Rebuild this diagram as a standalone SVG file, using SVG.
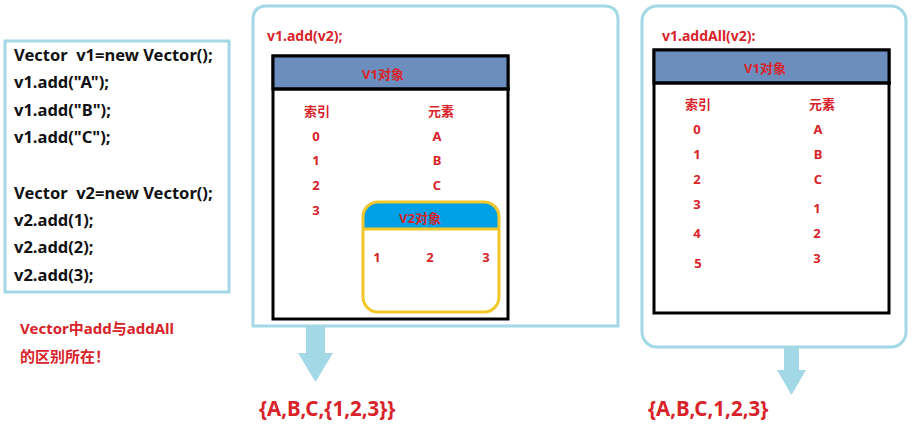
<svg xmlns="http://www.w3.org/2000/svg" width="918" height="426" viewBox="0 0 918 426">
<style>
.frame{fill:#fff;stroke:#A3D8E6;stroke-width:3}
.tbl{fill:#fff;stroke:#000;stroke-width:3}
.hdr{fill:#6C8EBF;stroke:#000;stroke-width:3}
.code{font-family:"Noto Sans","Noto Sans CJK SC",sans-serif;font-weight:bold;font-size:16.5px;fill:#111}
.r{font-family:"Noto Sans","Noto Sans CJK SC",sans-serif;font-weight:bold;fill:#D8232A;text-anchor:middle;dominant-baseline:central}
.s{font-size:13px}
.t{font-size:14px}
.l{text-anchor:start}
.big{font-size:20.5px}
.arrow{fill:#A3D8E6}
</style>
<g id="code-box">
<rect class="frame" x="5" y="41" width="224" height="251"/>
<g class="code">
<text x="14" y="61">Vector&#160; v1=new Vector();</text>
<text x="14" y="88">v1.add("A");</text>
<text x="14" y="116">v1.add("B");</text>
<text x="14" y="143">v1.add("C");</text>
<text x="14" y="199">Vector&#160; v2=new Vector();</text>
<text x="14" y="226">v2.add(1);</text>
<text x="14" y="253">v2.add(2);</text>
<text x="14" y="281">v2.add(3);</text>
</g>
</g>
<g id="caption">
<text class="r l" x="20" y="328" style="font-size:15px">Vector中add与addAll</text>
<text class="r l" x="20" y="356" style="font-size:15px">的区别所在！</text>
</g>
<g id="add-panel">
<path class="frame" d="M253 326 V20 Q253 6 267 6 H604 Q618 6 618 20 V326 Z"/>
<text class="r t l" x="267" y="35">v1.add(v2);</text>
<rect class="tbl" x="273" y="56" width="235" height="263"/>
<rect class="hdr" x="273" y="56" width="235" height="33"/>
<line x1="273" y1="89" x2="510" y2="89" stroke="#000" stroke-width="3"/>
<g class="r s">
<text x="383" y="74">V1对象</text>
<text x="317" y="111">索引</text>
<text x="441" y="111">元素</text>
<text x="316" y="136">0</text><text x="437" y="136">A</text>
<text x="316" y="160">1</text><text x="437" y="160">B</text>
<text x="316" y="185">2</text><text x="437" y="185">C</text>
<text x="316" y="210">3</text>
</g>
<g id="v2-object">
<path d="M363 229 V216 Q363 202 377 202 H485 Q499 202 499 216 V229 Z" fill="#00A0E6"/>
<rect x="363" y="202" width="136" height="110" rx="15" fill="none" stroke="#F2C72A" stroke-width="3"/>
<line x1="363" y1="229" x2="499" y2="229" stroke="#F2C72A" stroke-width="3"/>
<g class="r s">
<text x="420" y="218">V2对象</text>
<text x="377" y="257">1</text>
<text x="430" y="257">2</text>
<text x="486" y="257">3</text>
</g>
</g>
</g>
<g id="addall-panel">
<rect class="frame" x="642" y="6" width="264" height="341" rx="15"/>
<text class="r t l" x="662" y="35">v1.addAll(v2):</text>
<rect class="tbl" x="654" y="50" width="235" height="263"/>
<rect class="hdr" x="654" y="50" width="235" height="33"/>
<line x1="654" y1="83" x2="891" y2="83" stroke="#000" stroke-width="3"/>
<g class="r s">
<text x="765" y="68">V1对象</text>
<text x="698" y="104">索引</text>
<text x="822" y="104">元素</text>
<text x="697" y="129">0</text><text x="818" y="129">A</text>
<text x="697" y="154">1</text><text x="818" y="154">B</text>
<text x="697" y="179">2</text><text x="818" y="179">C</text>
<text x="697" y="204">3</text><text x="817" y="208">1</text>
<text x="697" y="233">4</text><text x="817" y="233">2</text>
<text x="698" y="263">5</text><text x="817" y="258">3</text>
</g>
</g>
<g id="connectors">
<path class="arrow" d="M306 327 H325 V353 H333 L315.5 382 L298 353 H306 Z"/>
<path class="arrow" d="M784 347 H799 V370 H806 L791.5 395 L777 370 H784 Z"/>
</g>
<g id="results">
<text class="r l big" x="259" y="408">{A,B,C,{1,2,3}}</text>
<text class="r l big" x="648" y="408">{A,B,C,1,2,3}</text>
</g>
</svg>
